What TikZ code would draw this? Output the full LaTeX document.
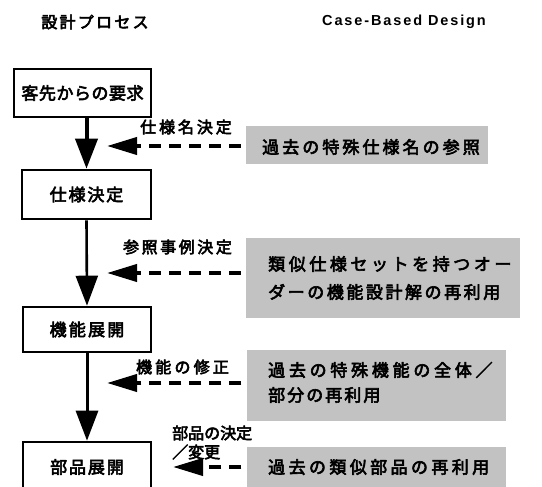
\documentclass[tikz,border=0pt]{standalone}
\usepackage{fontspec}
\setmainfont{Liberation Sans}
\newfontfamily\jp{Noto Sans CJK JP}[FakeBold=3.5]
\usetikzlibrary{arrows.meta}
\newcommand\JP[2]{{\jp\addfontfeatures{LetterSpace=#1}#2}}
\tikzset{
  pbox/.style={draw=black, line width=2.6pt, rectangle, inner sep=0pt, fill=white},
  sbox/.style={fill=black!24, draw=none, rectangle, inner sep=0pt},
  jpbig/.style={font=\fontsize{17}{17}\selectfont, inner sep=0pt},
  jplab/.style={font=\fontsize{16}{16}\selectfont, inner sep=0pt},
  mainarrow/.style={line width=#1, -{Triangle[length=30pt,width=22pt]}},
  darrow/.style={line width=4pt, dash pattern=on 12pt off 8pt, -{Triangle[length=30pt,width=17pt]}, shorten <=5pt},
}
\begin{document}
\begin{tikzpicture}[x=1pt,y=-1pt]
\clip (0,0) rectangle (542,487);
\fill[white] (0,0) rectangle (542,487);
% titles
\node[font=\fontsize{16}{16}\selectfont, inner sep=0pt] (t1) at (95,22) {\JP{14}{設計プロセス}};
\node[font=\bfseries\fontsize{14.5}{14.5}\selectfont, inner sep=0pt] (t2) at (404,22) {\addfontfeatures{LetterSpace=13}Case-Based Design};
% process boxes
\node[pbox, jpbig, minimum width=137, minimum height=48] (b1) at (82.5,93) {\JP{3}{客先からの要求}};
\node[pbox, jpbig, minimum width=129, minimum height=49] (b2) at (86.5,194.5) {\JP{11}{仕様決定}};
\node[pbox, jpbig, minimum width=128, minimum height=45] (b3) at (87,329.5) {\JP{13}{機能展開}};
\node[pbox, jpbig, minimum width=128, minimum height=50] (b4) at (87,467) {\JP{11}{部品展開}};
% main arrows
\draw[mainarrow=4pt] (b1.south -| b2.north) -- (b2.north);
\draw[mainarrow=2.6pt] (b2.south) -- (b3.north);
\draw[mainarrow=3pt] (b3.south) -- (b4.north);
% shaded case boxes
\node[sbox, minimum width=242, minimum height=38] (s1) at (367,145) {};
\node[sbox, minimum width=274, minimum height=80] (s2) at (383,278) {};
\node[sbox, minimum width=259, minimum height=71] (s3) at (376,385.5) {};
\node[sbox, minimum width=259, minimum height=56] (s4) at (376,475) {};
% case texts
\node[jpbig, anchor=west] (s1t) at (262,147) {\JP{18}{過去の特殊仕様名の参照}};
\node[jpbig, anchor=west] (s2a) at (268,264) {\JP{21}{類似仕様セットを持つオー}};
\node[jpbig, anchor=west] (s2b) at (268,292) {\JP{15}{ダーの機能設計解の再利用}};
\node[jpbig, anchor=west] (s3a) at (268,370) {\JP{22}{過去の特殊機能の全体／}};
\node[jpbig, anchor=west] (s3b) at (268,395) {\JP{12}{部分の再利用}};
\node[jpbig, anchor=west] (s4t) at (268,467) {\JP{20}{過去の類似部品の再利用}};
% labels
\node[jplab] (l1) at (186,127) {\JP{18}{仕様名決定}};
\node[jplab] (l2) at (177.5,247) {\JP{16}{参照事例決定}};
\node[jplab] (l3) at (182.5,367) {\JP{20}{機能の修正}};
\node[jplab, anchor=west] (l4a) at (172,433) {\JP{0}{部品の決定}};
\node[jplab, anchor=west] (l4b) at (172,452) {\JP{0}{／変更}};
% dashed reuse arrows
\coordinate (h1) at (107,146);
\coordinate (h2) at (107,273);
\coordinate (h3) at (107,383);
\coordinate (h4) at (173,467);
\draw[darrow] (s1.west |- h1) -- (h1);
\draw[darrow] (s2.west |- h2) -- (h2);
\draw[darrow] (s3.west |- h3) -- (h3);
\draw[darrow] (s4.west |- h4) -- (h4);
\end{tikzpicture}
\end{document}
